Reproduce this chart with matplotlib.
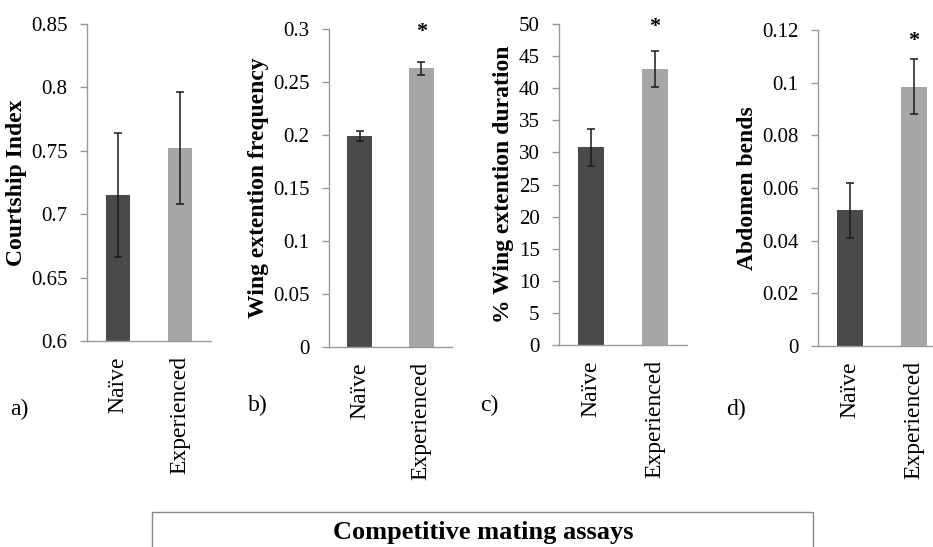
import matplotlib
matplotlib.use("Agg")
import matplotlib.pyplot as plt
from matplotlib.patches import Rectangle
from matplotlib.ticker import FuncFormatter

plt.rcParams["font.family"] = ["Liberation Serif", "DejaVu Serif"]

groups = ["Naïve", "Experienced"]

courtship_mean = [0.715, 0.752]
courtship_err = [0.049, 0.044]

wing_freq_mean = [0.199, 0.263]
wing_freq_err = [0.005, 0.006]

wing_dur_mean = [30.8, 43.0]
wing_dur_err = [2.85, 2.8]

abdomen_mean = [0.0515, 0.0985]
abdomen_err = [0.0105, 0.0105]

panel_letters = ["a)", "b)", "c)", "d)"]
ylabels = ["Courtship Index", "Wing extention frequency",
           "% Wing extention duration", "Abdomen bends"]
star_y = [None, 0.297, 49.5, 0.116]

bar_colors = ["#4a4a4a", "#a6a6a6"]
axis_gray = "#999999"

W, H = 933, 547
fig = plt.figure(figsize=(W / 100, H / 100), dpi=100)

# pixel boxes: left, top, right, bottom
boxes = [(87, 24, 211, 341), (329, 29, 452, 347),
         (559, 24, 687, 345), (818, 30, 946, 346)]
ylims = [(0.6, 0.85), (0, 0.3), (0, 50), (0, 0.12)]
ysteps = [0.05, 0.05, 5, 0.02]
letter_xy = [(19, 409), (258, 405), (489, 405), (736, 409)]

means = [courtship_mean, wing_freq_mean, wing_dur_mean, abdomen_mean]
errs = [courtship_err, wing_freq_err, wing_dur_err, abdomen_err]

fmt = FuncFormatter(lambda v, p: f"{v:.2f}".rstrip("0").rstrip(".") if v != 0 else "0")

for i in range(4):
    l, t, r, b = boxes[i]
    ax = fig.add_axes([l / W, 1 - b / H, (r - l) / W, (b - t) / H])
    x = [0, 1]
    ax.bar(x, means[i], width=0.4, color=bar_colors, zorder=2)
    ax.errorbar(x, means[i], yerr=errs[i], fmt="none", ecolor="#1a1a1a",
                elinewidth=1.1, capsize=3.2, capthick=1.1, zorder=3)
    lo, hi = ylims[i]
    ax.set_ylim(lo, hi)
    ax.set_xlim(-0.5, 1.5)
    n = int(round((hi - lo) / ysteps[i]))
    ax.set_yticks([lo + k * ysteps[i] for k in range(n + 1)])
    ax.yaxis.set_major_formatter(fmt)
    ax.set_xticks(x)
    ax.set_xticklabels(groups, rotation=90, fontsize=17, va="top")
    ax.tick_params(axis="x", length=0, pad=11)
    ax.tick_params(axis="y", length=5, width=1, color=axis_gray,
                   labelsize=15, pad=9)
    for s in ["top", "right"]:
        ax.spines[s].set_visible(False)
    for s in ["left", "bottom"]:
        ax.spines[s].set_color(axis_gray)
        ax.spines[s].set_linewidth(1)
    ax.set_ylabel(ylabels[i], fontsize=17, fontweight="bold", labelpad=3)
    if star_y[i] is not None:
        ax.text(1, star_y[i], "*", ha="center", va="center",
                fontsize=16, fontweight="bold")
    lx, ly = letter_xy[i]
    fig.text(lx / W, 1 - ly / H, panel_letters[i], fontsize=17,
             ha="center", va="center")

# title box at the bottom, cut by the figure edge
fig.patches.append(Rectangle((152 / W, -0.05), (813 - 152) / W, 0.05 + (547 - 512) / H,
                             transform=fig.transFigure, fill=False,
                             edgecolor="#888888", linewidth=1))
fig.text(483 / W, 1 - 532 / H, "Competitive mating assays", fontsize=19,
         fontweight="bold", ha="center", va="center")

fig.savefig("out.png", dpi=100)
